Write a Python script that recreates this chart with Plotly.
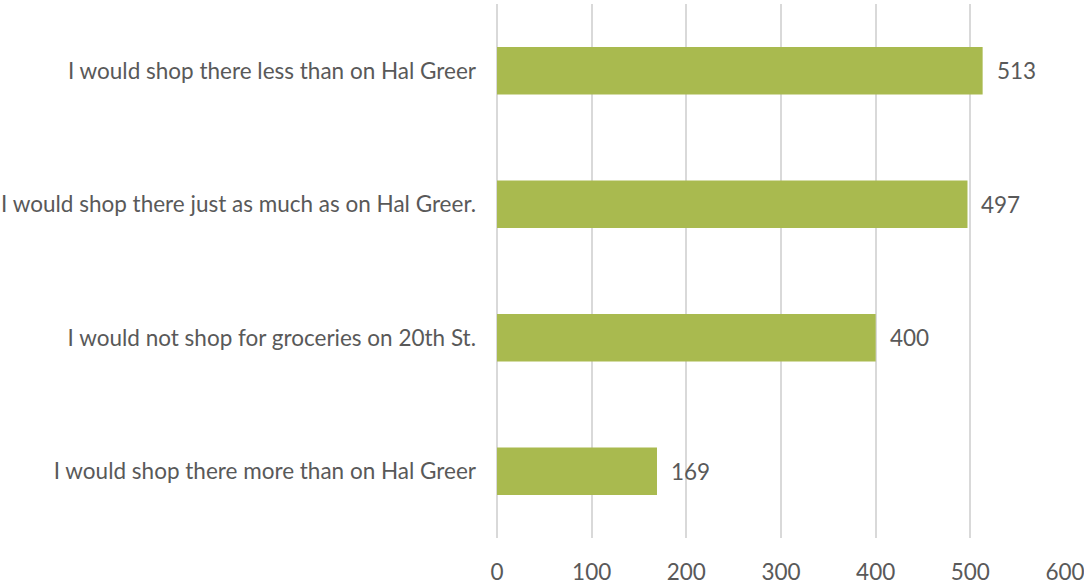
import plotly.graph_objects as go

categories = [
    "I would shop there more than on Hal Greer",
    "I would not shop for groceries on 20th St.",
    "I would shop there just as much as on Hal Greer.",
    "I would shop there less than on Hal Greer",
]
counts = [169, 400, 497, 513]
x_ticks = [0, 100, 200, 300, 400, 500, 600]

BAR_COLOR = "#A9BA4F"
TEXT_COLOR = "#595959"
GRID_COLOR = "#D9D9D9"
FONT = "Lato"
FONT_SIZE = 22.5

fig = go.Figure(
    go.Bar(
        y=categories,
        x=counts,
        orientation="h",
        marker=dict(color=BAR_COLOR, line=dict(width=0)),
        width=0.355,
        hoverinfo="x+y",
    )
)

for cat, val in zip(categories, counts):
    fig.add_annotation(
        x=val, y=cat, text=str(val), showarrow=False,
        xanchor="left", xshift=12,
        font=dict(family=FONT, size=FONT_SIZE, color=TEXT_COLOR),
    )

fig.update_layout(
    width=1084, height=583,
    margin=dict(l=497, r=19, t=4, b=45, autoexpand=False),
    paper_bgcolor="white", plot_bgcolor="white",
    showlegend=False,
    font=dict(family=FONT, size=FONT_SIZE, color=TEXT_COLOR),
)
fig.update_xaxes(
    range=[0, 600], tickvals=x_ticks, ticktext=[str(t) for t in x_ticks],
    showgrid=True, gridcolor=GRID_COLOR, gridwidth=1.5,
    zeroline=True, zerolinecolor=GRID_COLOR, zerolinewidth=1.5,
    showline=False, ticks="", ticklabelstandoff=18,
    ticklabeloverflow="allow", automargin=False,
    tickfont=dict(family=FONT, size=FONT_SIZE, color=TEXT_COLOR),
)
fig.update_yaxes(
    categoryorder="array", categoryarray=categories,
    showgrid=False, zeroline=False, showline=False, ticks="",
    ticklabelstandoff=20, automargin=False,
    tickfont=dict(family=FONT, size=FONT_SIZE, color=TEXT_COLOR),
)

fig.write_html("out.html")
